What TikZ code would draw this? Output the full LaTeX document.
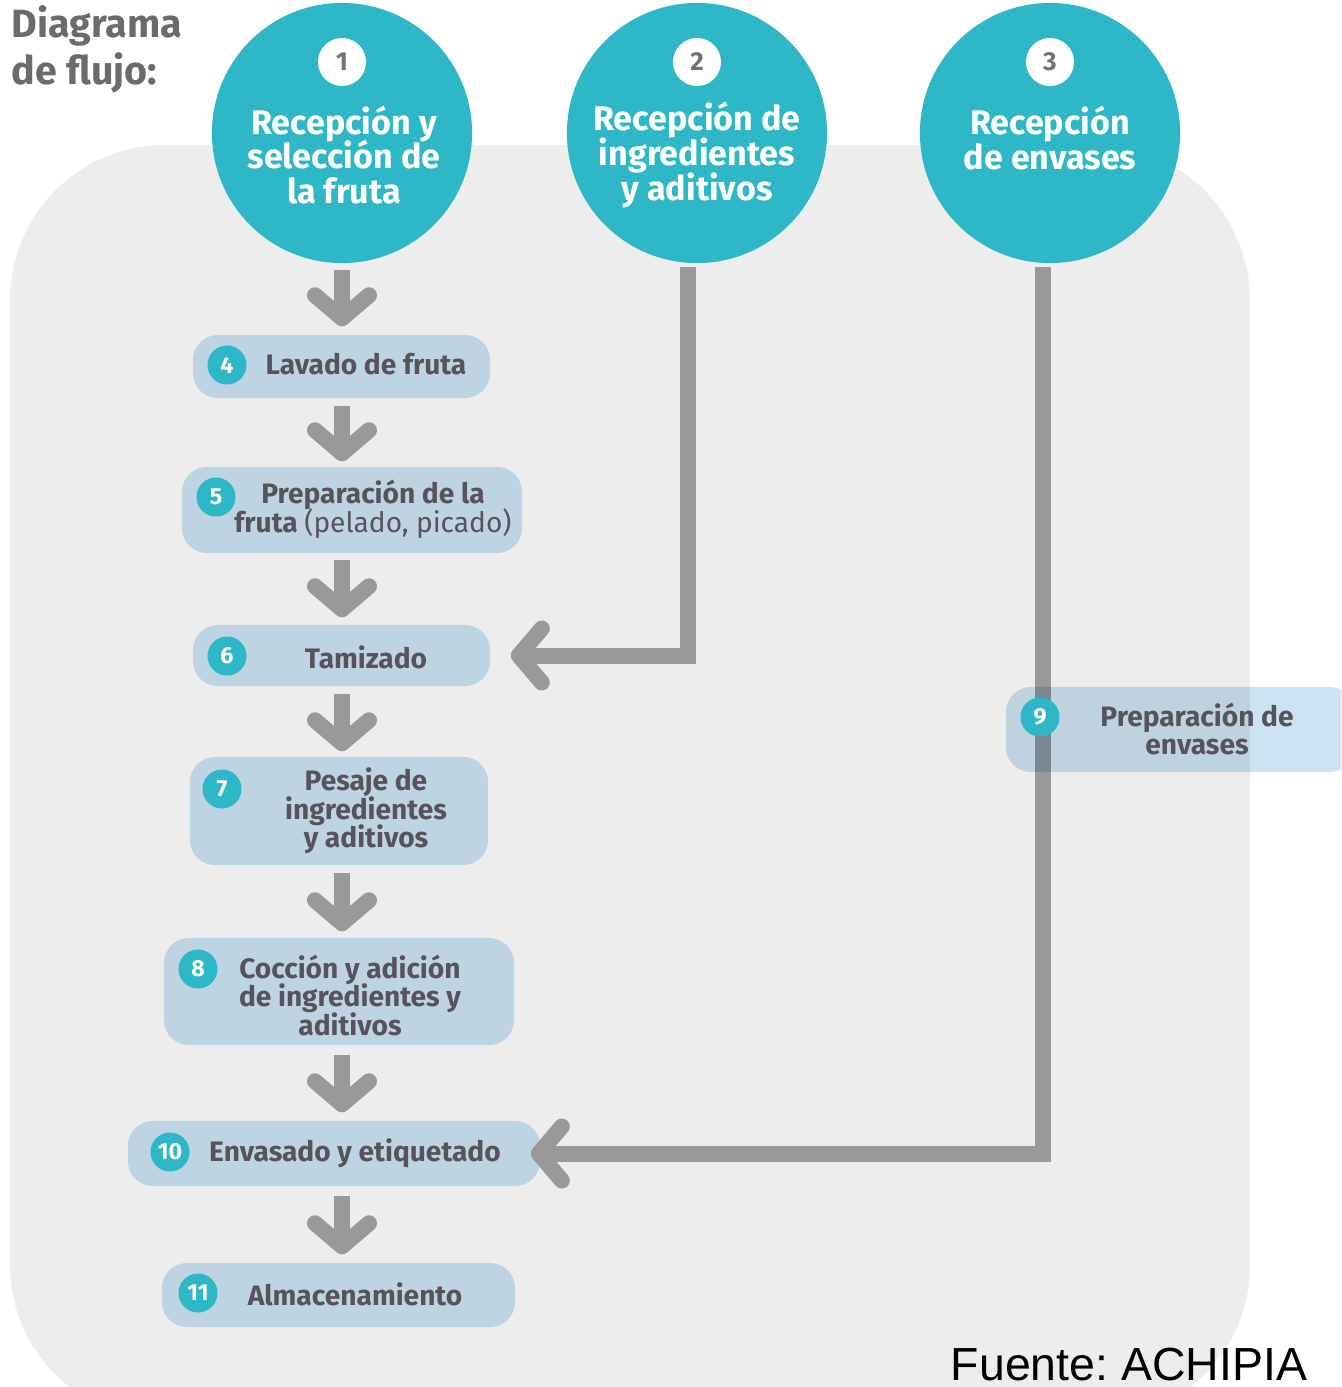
\documentclass[tikz,border=0pt]{standalone}
\usepackage{fontspec}
\setmainfont{Fira Sans}
\newfontfamily\fuentefont{Liberation Sans}
\usetikzlibrary{arrows.meta}
\newcommand\juntalineas{\lineskiplimit=-10pt\relax}
\definecolor{turq}{HTML}{2DB7C7}
\definecolor{cajaazul}{HTML}{BFD4E3}
\definecolor{cajaclara}{HTML}{CDE2F2}
\definecolor{fondo}{HTML}{EDEDED}
\definecolor{flecha}{HTML}{999999}
\definecolor{textogris}{HTML}{57535D}
\definecolor{titulo}{HTML}{6B6B6B}
\definecolor{numgris}{HTML}{6F7478}
\tikzset{
  etapa/.style={circle, fill=turq, minimum size=2.6cm, inner sep=0pt},
  etapatxt/.style={text=white, font=\fontsize{9.7}{9.9}\selectfont\bfseries\juntalineas, align=center},
  numetapa/.style={circle, fill=white, minimum size=0.48cm, inner sep=0pt, text=numgris, font=\fontsize{7.4}{8}\selectfont\bfseries},
  paso/.style={rounded corners=0.25cm, fill=cajaazul, inner sep=0pt},
  pasotxt/.style={text=textogris, font=\fontsize{8}{8.1}\selectfont\bfseries\juntalineas, align=center},
  numpaso/.style={circle, fill=turq, minimum size=0.39cm, inner sep=0pt, text=white, font=\fontsize{6.6}{7}\selectfont\bfseries},
  flujo/.style={draw=flecha, line width=0.16cm, -{Straight Barb[round,length=0.23cm,width=0.54cm]}},
}

\begin{document}
\begin{tikzpicture}[x=0.01cm, y=-0.01cm]
\clip (0,0) rectangle (1341,1387);
\fill[white] (0,0) rectangle (1341,1387);
\fill[fondo, rounded corners=1.55cm] (10,145) rectangle (1250,1420);

% titulo
\node[text=titulo, font=\fontsize{11.2}{13.4}\selectfont\bfseries, align=left, anchor=west, inner sep=0pt] (titulo) at (11,49) {Diagrama\\de flujo:};

% etapas de recepcion
\node[etapa] (c1) at (342,133) {};
\node[etapa] (c2) at (697,133) {};
\node[etapa] (c3) at (1050,133) {};
\node[numetapa] (n1) at (342,62) {1};
\node[numetapa] (n2) at (697,62) {2};
\node[numetapa] (n3) at (1050,62) {3};
\node[etapatxt] (t1) at (344,155) {Recepción y\\selección de\\la fruta};
\node[etapatxt] (t2) at (697,155) {Recepción de\\ingredientes\\y aditivos};
\node[etapatxt] (t3) at (1050,138) {Recepción\\de envases};

% pasos
\node[paso, minimum width=2.97cm, minimum height=0.63cm] (b4) at (341.5,366.5) {};
\node[paso, minimum width=3.40cm, minimum height=0.86cm] (b5) at (352,510) {};
\node[paso, minimum width=2.97cm, minimum height=0.61cm] (b6) at (341.5,655.5) {};
\node[paso, minimum width=2.98cm, minimum height=1.08cm] (b7) at (339,811) {};
\node[paso, minimum width=3.50cm, minimum height=1.07cm] (b8) at (339,991.5) {};
\node[paso, minimum width=4.12cm, minimum height=0.65cm] (b10) at (334,1153.5) {};
\node[paso, minimum width=3.53cm, minimum height=0.64cm] (b11) at (338.5,1295) {};

\node[pasotxt] (t4) at (366,364) {Lavado de fruta};
\node[pasotxt] (t5) at (373,509) {Preparación de la\\fruta {\mdseries(pelado, picado)}};
\node[pasotxt] (t6) at (366,657) {Tamizado};
\node[pasotxt] (t7) at (366,811) {Pesaje de\\ingredientes\\y aditivos};
\node[pasotxt] (t8) at (350,995) {Cocción y adición\\de ingredientes y\\aditivos};
\node[pasotxt] (t10) at (355,1153) {Envasado y etiquetado};
\node[pasotxt] (t11) at (355,1294) {Almacenamiento};

\node[numpaso] (n4) at (227,365) {4};
\node[numpaso] (n5) at (216,497) {5};
\node[numpaso] (n6) at (227,656) {6};
\node[numpaso] (n7) at (222,789) {7};
\node[numpaso] (n8) at (198,969) {8};
\node[numpaso] (n10) at (170,1152) {10};
\node[numpaso] (n11) at (198,1293) {11};

% flechas
\draw[flujo, shorten <=0.06cm, shorten >=0.08cm] (c1.south) -- (b4.north -| c1);
\draw[flujo, shorten <=0.07cm, shorten >=0.05cm] (b4.south -| c1) -- (b5.north -| c1);
\draw[flujo, shorten <=0.06cm, shorten >=0.07cm] (b5.south -| c1) -- (b6.north -| c1);
\draw[flujo, shorten <=0.07cm, shorten >=0.05cm] (b6.south -| c1) -- (b7.north -| c1);
\draw[flujo, shorten <=0.07cm, shorten >=0.06cm] (b7.south -| c1) -- (b8.north -| c1);
\draw[flujo, shorten <=0.09cm, shorten >=0.08cm] (b8.south -| c1) -- (b10.north -| c1);
\draw[flujo, shorten <=0.09cm, shorten >=0.08cm] (b10.south -| c1) -- (b11.north -| c1);
\draw[flujo, shorten <=0.03cm] ([xshift=-0.09cm]c2.south) |- ([xshift=0.2cm]b6.east);
\draw[flujo, shorten <=0.03cm] ([xshift=-0.07cm]c3.south) |- ([xshift=-0.1cm]b10.east);

% preparacion de envases
\node[paso, fill=cajaclara, blend mode=multiply, minimum width=3.48cm, minimum height=0.85cm] (b9) at (1180,729.5) {};
\node[numpaso] (n9) at (1040,717) {9};
\node[pasotxt] (t9) at (1197,729) {Preparación de\\envases};

% fuente
\node[font=\fuentefont\fontsize{13.2}{15}\selectfont, anchor=base, inner sep=0pt] (fuente) at (1129,1380) {Fuente:\ ACHIPIA};
\end{tikzpicture}
\end{document}
